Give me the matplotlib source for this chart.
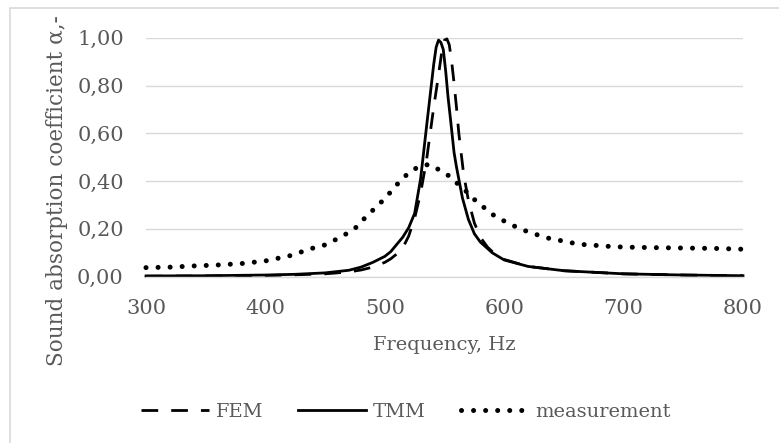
import matplotlib.pyplot as plt
from matplotlib.patches import Rectangle
from matplotlib.ticker import FuncFormatter

# values
freq_tmm = [300, 350, 400, 425, 450, 470, 480, 490, 500, 505, 510, 515, 520, 525,
            530, 535, 538, 541, 543, 545, 547, 549, 551, 553, 555, 558, 560, 565,
            570, 575, 580, 590, 600, 620, 650, 700, 750, 800]
tmm = [0.003, 0.004, 0.007, 0.010, 0.016, 0.027, 0.040, 0.060, 0.085, 0.105,
       0.135, 0.165, 0.205, 0.265, 0.41, 0.63, 0.76, 0.89, 0.96, 0.99, 0.98,
       0.95, 0.86, 0.75, 0.66, 0.52, 0.46, 0.33, 0.24, 0.18, 0.145, 0.10, 0.07,
       0.043, 0.025, 0.012, 0.007, 0.004]

freq_fem = [300, 350, 400, 425, 450, 470, 480, 490, 500, 505, 510, 515, 520, 525,
            530, 535, 538, 541, 544, 546, 548, 550, 552, 554, 556, 558, 560, 562,
            566, 570, 575, 580, 586, 590, 600, 620, 650, 700, 750, 800]
fem = [0.002, 0.003, 0.005, 0.008, 0.012, 0.020, 0.028, 0.040, 0.060, 0.075,
       0.095, 0.12, 0.17, 0.245, 0.35, 0.49, 0.60, 0.71, 0.81, 0.88, 0.95, 0.99,
       0.995, 0.97, 0.90, 0.81, 0.71, 0.60, 0.43, 0.32, 0.225, 0.165, 0.124,
       0.105, 0.072, 0.043, 0.025, 0.012, 0.007, 0.004]

freq_meas = [300, 320, 340, 360, 380, 400, 420, 440, 450, 460, 468, 477, 484, 491,
             498, 505, 511, 519, 528, 537, 546, 555, 562, 570, 577, 585, 593, 602,
             612, 621, 631, 640, 650, 661, 670, 680, 690, 700, 720, 750, 780, 800]
meas = [0.038, 0.040, 0.045, 0.049, 0.055, 0.066, 0.087, 0.120, 0.133, 0.158,
        0.18, 0.21, 0.25, 0.283, 0.317, 0.355, 0.39, 0.43, 0.46, 0.47, 0.446,
        0.418, 0.384, 0.349, 0.313, 0.282, 0.25, 0.228, 0.203, 0.186, 0.17,
        0.157, 0.149, 0.137, 0.133, 0.13, 0.126, 0.124, 0.122, 0.12, 0.118, 0.115]

grey = '#595959'
plt.rcParams['font.family'] = ['DejaVu Serif']
plt.rcParams['font.size'] = 14

fig = plt.figure(figsize=(7.79, 4.43), dpi=100)
fig.patches.append(Rectangle((10/779, -0.1), 1.2, 1 - 8/443 + 0.1, transform=fig.transFigure,
                             fill=False, edgecolor='#d9d9d9', lw=1.2))
ax = fig.add_axes([146/779, 1 - 276.7/443, (743 - 146)/779, (276.7 - 37.7)/443])

ax.plot(freq_fem, fem, color='black', lw=2.0, linestyle=(0, (6, 4.7)), label='FEM', clip_on=False)
ax.plot(freq_tmm, tmm, color='black', lw=2.0, label='TMM', clip_on=False)
ax.plot(freq_meas, meas, color='black', lw=3.6, linestyle=(0, (0.01, 2.4)),
        dash_capstyle='round', label='measurement', clip_on=False)

ax.set_xlim(300, 800)
ax.set_ylim(0, 1.0)
ax.set_xticks(range(300, 801, 100))
ax.set_yticks([0, 0.2, 0.4, 0.6, 0.8, 1.0])
ax.yaxis.set_major_formatter(FuncFormatter(lambda v, p: f'{v:.2f}'.replace('.', ',')))
ax.tick_params(length=0, colors=grey, labelsize=15, pad=16)
ax.grid(axis='y', color='#d9d9d9', lw=1.0)
ax.set_axisbelow(True)
for s in ['top', 'right', 'left']:
    ax.spines[s].set_visible(False)
ax.spines['bottom'].set_color('#d9d9d9')
ax.spines['bottom'].set_linewidth(1.0)

fig.text(444/779, 1 - 345/443, 'Frequency, Hz', color=grey, ha='center', va='center', fontsize=14)
fig.text(57/779, 1 - 191/443, 'Sound absorption coefficient α,-', color=grey,
         ha='center', va='center', rotation=90, fontsize=15.5)

leg = fig.legend(loc='center', bbox_to_anchor=(406/779, 1 - 412/443), ncol=3, frameon=False,
                 handlelength=3.5, handletextpad=0.35, columnspacing=1.8, fontsize=14)
for t in leg.get_texts():
    t.set_color(grey)

plt.savefig('out.png', dpi=100)
